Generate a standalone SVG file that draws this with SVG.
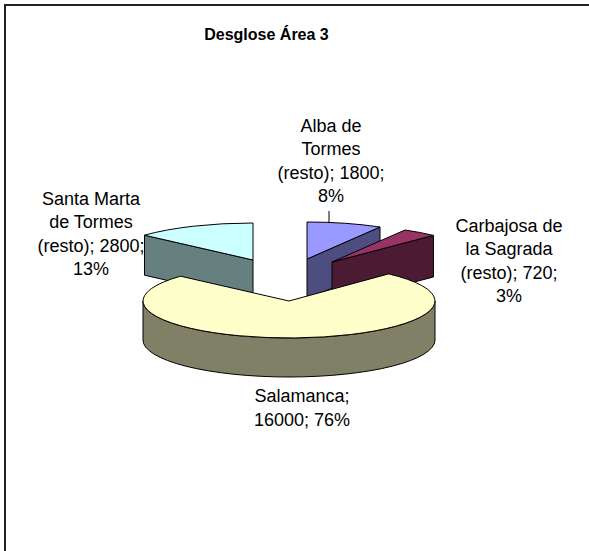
<svg xmlns="http://www.w3.org/2000/svg" width="589" height="551" viewBox="0 0 589 551">
<style>
.e{stroke:#000;stroke-width:1;stroke-linejoin:round}
.t{font-family:"Liberation Sans",Arial,sans-serif;font-size:18px;fill:#000;text-anchor:middle}
.ttl{font-family:"Liberation Sans",Arial,sans-serif;font-size:16px;font-weight:bold;fill:#000;text-anchor:middle}
</style>
<rect x="0" y="0" width="589" height="551" fill="#fff"/>
<path d="M5,551 V5 H589" fill="none" stroke="#222" stroke-width="2"/>
<text class="ttl" x="266.5" y="39.5">Desglose Área 3</text>
<g id="santa-marta">
<path class="e" fill="#668080" d="M253,260 L144.5,235.2 L144.5,275.2 L253,300 Z"/>
<path class="e" fill="#CCFFFF" d="M253,260 L253,223 A146,37 0 0 0 144.5,235.2 Z"/>
<text class="t" x="91" y="204.5">Santa Marta</text>
<text class="t" x="91" y="228">de Tormes</text>
<text class="t" x="91" y="251.5">(resto); 2800;</text>
<text class="t" x="91" y="275">13%</text>
</g>
<g id="alba">
<path class="e" fill="#4D4D80" d="M307,259 L380,227 L380,267 L307,299 Z"/>
<path class="e" fill="#9999FF" d="M307,259 L307,222 A146,37 0 0 1 380,227 Z"/>
<text class="t" x="331" y="131.5">Alba de</text>
<text class="t" x="331" y="155">Tormes</text>
<text class="t" x="331" y="178.5">(resto); 1800;</text>
<text class="t" x="331" y="202">8%</text>
</g>
<g id="carbajosa">
<path class="e" fill="#4D1A33" d="M332,262 L433.4,235.4 L433.4,277 L332,303.6 Z"/>
<path class="e" fill="#993366" d="M332,262 L405,230 A146,37 0 0 1 433.4,235.4 Z"/>
<text class="t" x="509" y="231.5">Carbajosa de</text>
<text class="t" x="509" y="255">la Sagrada</text>
<text class="t" x="509" y="278.5">(resto); 720;</text>
<text class="t" x="509" y="302">3%</text>
</g>
<g id="salamanca">
<path class="e" fill="#808066" d="M143,301 A146,37 0 0 0 435,301 L435,340 A146,37 0 0 1 143,340 Z"/>
<path class="e" fill="#FFFFCC" d="M289,301 L388.6,273.9 A146,37 0 1 1 180.5,276.2 Z"/>
<text class="t" x="302" y="402">Salamanca;</text>
<text class="t" x="302" y="426">16000; 76%</text>
</g>
<g id="connectors">
<path d="M329,211 V223" fill="none" stroke="#000" stroke-width="1"/>
</g>
</svg>
